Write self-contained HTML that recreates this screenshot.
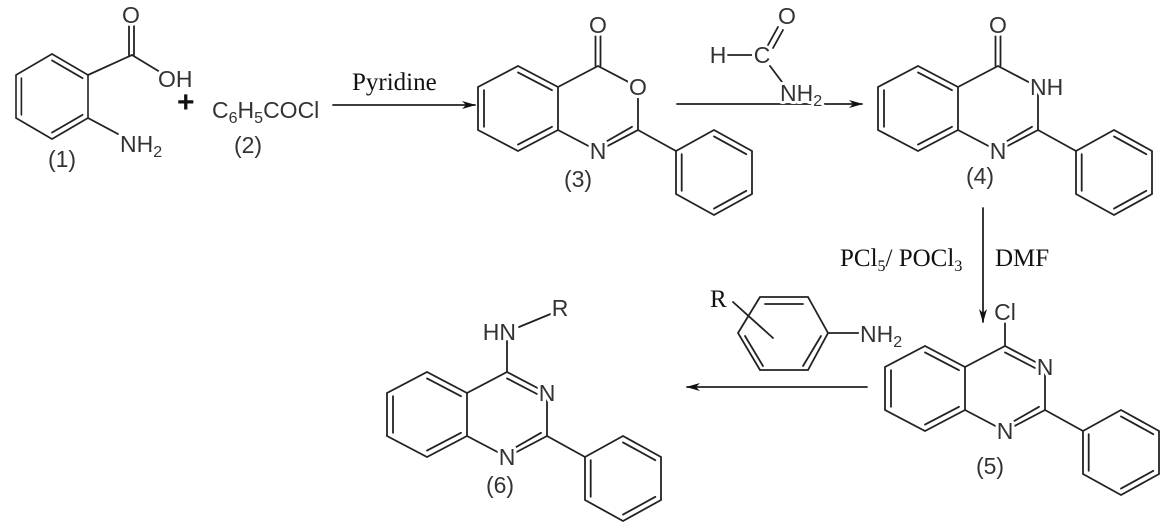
<!DOCTYPE html>
<html><head><meta charset="utf-8">
<style>
html,body{margin:0;padding:0;background:#fff;}
svg{display:block;}
.l{stroke:#222;stroke-width:1.8;fill:none;stroke-linecap:round;}
.a{font-family:"Liberation Sans",Arial,sans-serif;font-size:23px;fill:#333;stroke:#fff;stroke-width:6px;paint-order:stroke;stroke-linejoin:round;}
.m{text-anchor:middle;}
.n{stroke-width:0;}
.t{font-family:"Liberation Serif","Times New Roman",serif;font-size:25px;fill:#111;}
.s{font-size:16px;}
</style></head><body>
<svg width="1170" height="532" viewBox="0 0 1170 532" xmlns="http://www.w3.org/2000/svg">
<defs>
<marker id="ah" markerWidth="14" markerHeight="8" refX="13" refY="4" orient="auto" markerUnits="userSpaceOnUse">
<path d="M0,0 L14,4 L0,8 L4,4 Z" fill="#111"/>
</marker>
<g id="benzo">
<polyline class="l" points="0,0 -40,-21 -80,0 -80,43 -40,64 0,43 0,0"/>
<line class="l" x1="-40" y1="-14.6" x2="-6" y2="3.2"/>
<line class="l" x1="-74" y1="3.2" x2="-74" y2="39.8"/>
<line class="l" x1="-40" y1="57.6" x2="-6" y2="39.8"/>
</g>
<g id="core">
<use href="#benzo"/>
<polyline class="l" points="0,0 40,-21 80,0 80,43 40,64 0,43"/>
<line class="l" x1="74" y1="39.8" x2="44" y2="57"/>
<line class="l" x1="80" y1="43" x2="118" y2="64"/>
<polyline class="l" points="118,64 156,43 194,64 194,107 156,128 118,107 118,64"/>
<line class="l" x1="156" y1="49.4" x2="188.3" y2="67.2"/>
<line class="l" x1="123.7" y1="67.2" x2="123.7" y2="103.8"/>
<line class="l" x1="156" y1="121.6" x2="188.3" y2="103.8"/>
</g>
</defs>

<!-- Compound 1 -->
<use href="#benzo" transform="translate(88,75) scale(0.9,1)"/>
<line class="l" x1="88" y1="75" x2="132" y2="55"/>
<line class="l" x1="129" y1="55" x2="129" y2="24"/>
<line class="l" x1="134" y1="55" x2="134" y2="24"/>
<line class="l" x1="132" y1="55" x2="160" y2="72"/>
<line class="l" x1="88" y1="118" x2="118" y2="134"/>
<text class="a m" x="131" y="23">O</text>
<text class="a" x="158" y="87">OH</text>
<text class="a" x="120" y="152">NH<tspan class="s" dy="5">2</tspan></text>
<text class="a m n" x="62" y="167">(1)</text>
<text x="177" y="112" style="font-family:'Liberation Sans',sans-serif;font-size:30px;font-weight:bold;fill:#111">+</text>
<text class="a n" x="212" y="118">C<tspan class="s" dy="5">6</tspan><tspan dy="-5">H</tspan><tspan class="s" dy="5">5</tspan><tspan dy="-5">COCl</tspan></text>
<text class="a m n" x="248" y="153">(2)</text>

<!-- Arrow 1 -->
<text class="t" x="352" y="90">Pyridine</text>
<line class="l" x1="333" y1="105" x2="475" y2="105" marker-end="url(#ah)"/>

<!-- Compound 3 -->
<g transform="translate(558,87)">
<use href="#core"/>
<line class="l" x1="37.5" y1="-21" x2="37.5" y2="-52"/>
<line class="l" x1="42.5" y1="-21" x2="42.5" y2="-52"/>
<text class="a m" x="40" y="-54">O</text>
<rect x="70" y="-11" width="20" height="22" fill="#fff"/>
<text class="a m" x="80" y="8">O</text>
<text class="a m" x="40" y="72">N</text>
<text class="a m n" x="20" y="100">(3)</text>
</g>

<!-- Formamide + arrow 2 -->
<line class="l" x1="677" y1="104" x2="862" y2="104" marker-end="url(#ah)"/>
<text class="a m" x="718" y="63">H</text>
<line class="l" x1="728" y1="55" x2="753" y2="55"/>
<text class="a m" x="762" y="63">C</text>
<line class="l" x1="768" y1="45" x2="778" y2="27"/>
<line class="l" x1="773" y1="48" x2="783" y2="30"/>
<text class="a m" x="787" y="24">O</text>
<line class="l" x1="770" y1="66" x2="782" y2="82"/>
<text class="a" x="780" y="101">NH<tspan class="s" dy="5">2</tspan></text>

<!-- Compound 4 -->
<g transform="translate(958,87)">
<use href="#core"/>
<line class="l" x1="37.5" y1="-21" x2="37.5" y2="-52"/>
<line class="l" x1="42.5" y1="-21" x2="42.5" y2="-52"/>
<text class="a m" x="40" y="-54">O</text>
<text class="a" x="72" y="8">NH</text>
<text class="a m" x="40" y="72">N</text>
<text class="a m n" x="22" y="97">(4)</text>
</g>

<!-- Arrow 3 -->
<line class="l" x1="983" y1="208" x2="983" y2="322" marker-end="url(#ah)"/>
<text class="t" x="840" y="266">PCl<tspan font-size="16" dy="5">5</tspan><tspan dy="-5">/ POCl</tspan><tspan font-size="16" dy="5">3</tspan></text>
<text class="t" x="995" y="266">DMF</text>

<!-- Compound 5 -->
<g transform="translate(965,367)">
<use href="#core"/>
<line class="l" x1="40" y1="-14.6" x2="70" y2="1"/>
<line class="l" x1="40" y1="-21" x2="40" y2="-44"/>
<text class="a m" x="40" y="-47">Cl</text>
<text class="a m" x="80" y="8">N</text>
<text class="a m" x="40" y="72">N</text>
<text class="a m n" x="25" y="107">(5)</text>
</g>

<!-- Aniline -->
<polyline class="l" points="760,297 808,297 828,333 808,370 760,370 738,333 760,297"/>
<line class="l" x1="765" y1="304" x2="803" y2="304"/>
<line class="l" x1="745" y1="336" x2="763" y2="366"/>
<line class="l" x1="821" y1="336" x2="803" y2="366"/>
<line class="l" x1="733" y1="302" x2="773" y2="338"/>
<line class="l" x1="828" y1="333" x2="860" y2="333"/>
<text class="t" x="710" y="307">R</text>
<text class="a" x="860" y="342">NH<tspan class="s" dy="5">2</tspan></text>

<!-- Arrow 4 -->
<line class="l" x1="867" y1="387" x2="687" y2="387" marker-end="url(#ah)"/>

<!-- Compound 6 -->
<g transform="translate(467,393)">
<use href="#core"/>
<line class="l" x1="40" y1="-14.6" x2="70" y2="1"/>
<line class="l" x1="40" y1="-21" x2="40" y2="-52"/>
<line class="l" x1="52" y1="-66" x2="86" y2="-80"/>
<text class="a" x="49" y="-53" text-anchor="end">HN</text>
<text class="a m" x="93" y="-77">R</text>
<text class="a m" x="80" y="8">N</text>
<text class="a m" x="40" y="72">N</text>
<text class="a m n" x="33" y="100">(6)</text>
</g>
</svg>
</body></html>
